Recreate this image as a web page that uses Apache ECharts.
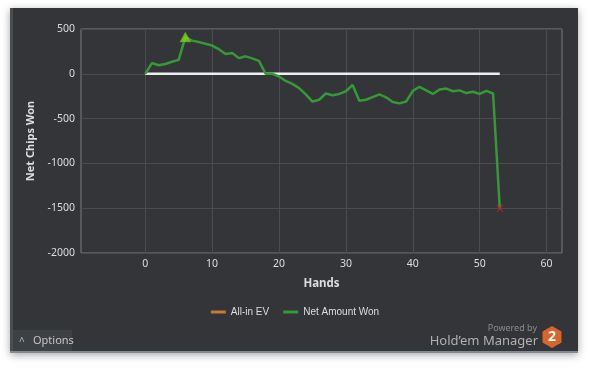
<!DOCTYPE html>
<html>
<head>
<meta charset="utf-8">
<script src="https://cdn.jsdelivr.net/npm/echarts@6/dist/echarts.min.js"></script>
<style>
html,body{margin:0;padding:0;background:#fff;}
#c{width:590px;height:368px;}
</style>
</head>
<body>
<div id="c"></div>
<script>
// Data
const hands = [0,1,2,3,4,5,6,7,8,9,10,11,12,13,14,15,16,17,18,19,20,21,22,23,24,25,26,27,28,29,30,31,32,33,34,35,36,37,38,39,40,41,42,43,44,45,46,47,48,49,50,51,52,53];
const netWon = [0,120,95,110,135,155,410,370,355,335,315,275,220,232,175,195,172,145,0,0,-30,-80,-113,-160,-230,-310,-290,-220,-240,-225,-195,-125,-300,-290,-260,-230,-262,-315,-330,-310,-190,-145,-185,-225,-175,-165,-195,-185,-215,-200,-225,-190,-220,-1500];
const allInEV = [];
const zeroLine = [[0,0],[53,0]];
const xTicks = [0,10,20,30,40,50,60];
const legendNames = ['All-in EV','Net Amount Won'];

const font = 'Noto Sans';
const font2 = 'Liberation Sans';
const netData = hands.map((h,i)=>[h,netWon[i]]);
let peak = 0;
netWon.forEach((v,i)=>{ if (v > netWon[peak]) peak = i; });
const last = netWon.length - 1;

const chart = echarts.init(document.getElementById('c'), null, {renderer:'canvas'});
chart.setOption({
  backgroundColor: '#ffffff',
  animation: false,
  textStyle: {fontFamily: font},
  graphic: [
    {type:'rect', z:-10, shape:{x:10,y:8,width:568,height:345}, style:{fill:'#333538', shadowBlur:8, shadowColor:'rgba(0,0,0,0.35)', shadowOffsetY:2}},
    {type:'rect', z:-9, shape:{x:10,y:8,width:3,height:345}, style:{fill:'#4b4e51'}},
    {type:'rect', z:-9, shape:{x:10,y:351,width:568,height:2}, style:{fill:'#7f8c96'}},
    {type:'rect', z:-8, shape:{x:13,y:330,width:59,height:21}, style:{fill:'#3e4144'}},
    {type:'text', z:-7, style:{x:19,y:342,text:'^',fill:'#bbbbbb',font:'10px '+font,verticalAlign:'middle'}},
    {type:'text', z:-7, style:{x:33,y:341,text:'Options',fill:'#c4c4c4',font:'11px '+font,verticalAlign:'middle'}},
    {type:'text', z:-7, style:{x:537,y:328,text:'Powered by',fill:'#8a8a8a',font:'9px '+font,align:'right',verticalAlign:'middle'}},
    {type:'text', z:-7, style:{x:538,y:341,text:'Hold\u2019em Manager',fill:'#b0b0b0',font:'13px '+font,align:'right',verticalAlign:'middle'}},
    {type:'polygon', z:-7, shape:{points:[[552,326],[561.5,331.5],[561.5,342.5],[552,348],[542.5,342.5],[542.5,331.5]]}, style:{fill:'#d8652b'}},
    {type:'text', z:-6, style:{x:552,y:337.5,text:'2',fill:'#ffffff',font:'bold 14px '+font,align:'center',verticalAlign:'middle'}}
  ],
  grid: {left:81, right:28, top:29, bottom:115, show:true, borderColor:'#7a7c7e', borderWidth:1, backgroundColor:'transparent'},
  legend: {
    data: legendNames,
    top: 302, left: 'center',
    icon: 'rect', itemWidth: 15, itemHeight: 3, itemGap: 14,
    textStyle: {color:'#dddddd', fontSize: 10, fontFamily: font2}
  },
  xAxis: {
    type: 'value', min: -9.6, max: 62.3,
    name: 'Hands', nameLocation: 'middle', nameGap: 25,
    nameTextStyle: {color:'#dddddd', fontSize: 11.5, fontWeight:'bold', fontFamily: font},
    axisLine: {show:false},
    axisTick: {show:false, customValues: xTicks},
    axisLabel: {customValues: xTicks, color:'#dddddd', fontSize: 10.5, margin: 6},
    splitLine: {show:true, lineStyle:{color:'#4a4d50', width:1}}
  },
  yAxis: {
    type: 'value', min: -2000, max: 500, interval: 500,
    name: 'Net Chips Won', nameLocation: 'middle', nameGap: 44, nameRotate: 90,
    nameTextStyle: {color:'#dddddd', fontSize: 11, fontWeight:'bold', fontFamily: font},
    axisLine: {show:false},
    axisTick: {show:false},
    axisLabel: {color:'#dddddd', fontSize: 10.5, margin: 6, formatter: v => String(v)},
    splitLine: {show:true, lineStyle:{color:'#4a4d50', width:1}}
  },
  series: [
    {name:'All-in EV', type:'line', data: allInEV, itemStyle:{color:'#c27a38'}, lineStyle:{color:'#c27a38', width:2.5}, symbol:'none'},
    {name:'zero', type:'line', data: zeroLine, symbol:'none', silent:true, itemStyle:{color:'#eeeeee'}, lineStyle:{color:'#eeeeee', width:2.5}, z:3},
    {name:'Net Amount Won', type:'line', data: netData, symbol:'none', itemStyle:{color:'#359935'}, lineStyle:{color:'#359935', width:2.5}, z:4},
    {name:'peak', type:'scatter', data:[netData[peak]], symbol:'triangle', symbolSize:[11,10], itemStyle:{color:'#7fd620', borderColor:'#4a9a15', borderWidth:0.5}, z:5, silent:true},
    {name:'end', type:'scatter', data:[netData[last]], symbol:'path://M0,0L2,0L5,3L8,0L10,0L6,5L10,10L8,10L5,7L2,10L0,10L4,5Z', symbolSize:7, itemStyle:{color:'#cc2222'}, z:5, silent:true}
  ]
});
</script>
</body>
</html>
